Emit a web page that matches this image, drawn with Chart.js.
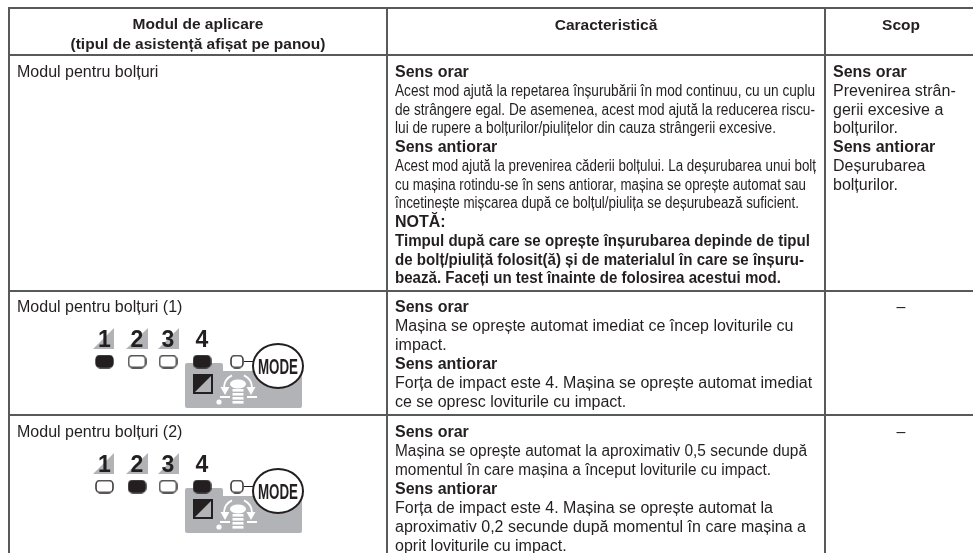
<!DOCTYPE html>
<html lang="ro">
<head>
<meta charset="utf-8">
<title>Modul de aplicare</title>
<style>html,body{margin:0;padding:0;background:#fff}canvas{display:block}</style>
<script src="https://cdn.jsdelivr.net/npm/chart.js@4"></script>
</head>
<body>
<canvas id="c" width="973" height="553"></canvas>
<script>
// ---- table content ----
const headerCol1 = ['Modul de aplicare', '(tipul de asistență afișat pe panou)'];
const headerCol2 = ['Caracteristică'];
const headerCol3 = ['Scop'];
const modeNames = ['Modul pentru bolțuri', 'Modul pentru bolțuri (1)', 'Modul pentru bolțuri (2)'];
const featureRow1 = ['Sens orar',
  'Acest mod ajută la repetarea înșurubării în mod continuu, cu un cuplu',
  'de strângere egal. De asemenea, acest mod ajută la reducerea riscu-',
  'lui de rupere a bolțurilor/piulițelor din cauza strângerii excesive.',
  'Sens antiorar',
  'Acest mod ajută la prevenirea căderii bolțului. La deșurubarea unui bolț',
  'cu mașina rotindu-se în sens antiorar, mașina se oprește automat sau',
  'încetinește mișcarea după ce bolțul/piulița se deșurubează suficient.',
  'NOTĂ:',
  'Timpul după care se oprește înșurubarea depinde de tipul',
  'de bolț/piuliță folosit(ă) și de materialul în care se înșuru-',
  'bează. Faceți un test înainte de folosirea acestui mod.'];
const featureRow1Bold = [0, 4, 8, 9, 10, 11];
const featureRow2 = ['Sens orar',
  'Mașina se oprește automat imediat ce încep loviturile cu',
  'impact.',
  'Sens antiorar',
  'Forța de impact este 4. Mașina se oprește automat imediat',
  'ce se opresc loviturile cu impact.'];
const featureRow2Bold = [0, 3];
const featureRow3 = ['Sens orar',
  'Mașina se oprește automat la aproximativ 0,5 secunde după',
  'momentul în care mașina a început loviturile cu impact.',
  'Sens antiorar',
  'Forța de impact este 4. Mașina se oprește automat la',
  'aproximativ 0,2 secunde după momentul în care mașina a',
  'oprit loviturile cu impact.'];
const featureRow3Bold = [0, 3];
const purposeRow1 = ['Sens orar', 'Prevenirea strân-', 'gerii excesive a', 'bolțurilor.',
  'Sens antiorar', 'Deșurubarea', 'bolțurilor.'];
const purposeRow1Bold = [0, 4];
const emptyPurpose = '–';
const levelDigits = ['1', '2', '3', '4'];
const modeWord = 'MODE';
const litLevelsRow2 = [0, 3];
const litLevelsRow3 = [1, 3];

// ---- layout (in scale units, which equal page pixels) ----
const columnRules = [9, 387, 825];
const rowRules = [8, 55, 291, 415];
const textCol = [17, 395, 833];
const headCenters = [198, 606, 901];
const lampX = [104.5, 137, 168, 202];
const lampBaseY = 361.5;
const iconRowShift = [0, 125];
const sizeN = 16;
const fitRow1 = {1: 420, 2: 420, 3: 381, 5: 421, 6: 411, 7: 404, 9: 415, 10: 409, 11: 386};
const fitRow3 = {1: 412, 2: 376};

function lampSprite(w, h, lit) {
  const s = document.createElement('canvas');
  s.width = w + 2; s.height = h + 2;
  const g = s.getContext('2d');
  g.beginPath(); g.roundRect(1, 1, w, h, 4);
  g.fillStyle = lit ? '#231f20' : '#fff'; g.fill();
  g.lineWidth = 1.4; g.strokeStyle = '#231f20'; g.stroke();
  return s;
}
const litPoints = [], offPoints = [], smallPoints = [];
iconRowShift.forEach((dy, r) => {
  const lit = r === 0 ? litLevelsRow2 : litLevelsRow3;
  lampX.forEach((x, i) => (lit.includes(i) ? litPoints : offPoints).push({x, y: lampBaseY + dy}));
  smallPoints.push({x: 237, y: lampBaseY + dy});
});

const tablePlugin = {
  id: 'table',
  beforeDatasetsDraw(chart) {
    const {ctx, scales: {x: X, y: Y}} = chart;
    const px = v => X.getPixelForValue(v), py = v => Y.getPixelForValue(v);
    ctx.save();
    // table rules
    ctx.strokeStyle = '#58595b'; ctx.lineWidth = 2;
    columnRules.forEach(v => {
      ctx.beginPath(); ctx.moveTo(px(v), py(rowRules[0]) - 1); ctx.lineTo(px(v), py(553)); ctx.stroke();
    });
    rowRules.forEach(v => {
      ctx.beginPath(); ctx.moveTo(px(columnRules[0]), py(v)); ctx.lineTo(px(973), py(v)); ctx.stroke();
    });
    iconRowShift.forEach(dy => {
      // grey panel
      ctx.fillStyle = '#b1b3b6';
      ctx.beginPath();
      ctx.roundRect(px(185), py(363 + dy), 38, 20, 2);
      ctx.roundRect(px(185), py(371 + dy), 117, 37, 2);
      ctx.fill();
      // level triangles
      [[93, 114], [126, 148], [158, 179]].forEach(([a, b]) => {
        ctx.fillStyle = '#b1b3b6';
        ctx.beginPath();
        ctx.moveTo(px(a), py(349 + dy));
        ctx.lineTo(px(b), py(328 + dy));
        ctx.lineTo(px(b), py(349 + dy));
        ctx.closePath(); ctx.fill();
      });
      // half-filled square
      ctx.fillStyle = '#231f20';
      ctx.fillRect(px(193), py(374 + dy), 20, 20);
      ctx.fillStyle = '#b1b3b6';
      ctx.beginPath();
      ctx.moveTo(px(195), py(392 + dy));
      ctx.lineTo(px(211), py(376 + dy));
      ctx.lineTo(px(211), py(392 + dy));
      ctx.closePath(); ctx.fill();
      // screw pictogram
      ctx.strokeStyle = '#fff'; ctx.fillStyle = '#fff'; ctx.lineWidth = 1.8;
      ctx.beginPath();
      ctx.arc(px(238), py(388 + dy), 14, Math.PI * 1.02, Math.PI * 1.36);
      ctx.stroke();
      ctx.beginPath();
      ctx.arc(px(238), py(388 + dy), 14, Math.PI * 1.64, Math.PI * 1.98);
      ctx.stroke();
      [225, 251].forEach(a => {
        ctx.beginPath();
        ctx.moveTo(px(a - 4.5), py(387 + dy));
        ctx.lineTo(px(a + 4.5), py(387 + dy));
        ctx.lineTo(px(a), py(395 + dy));
        ctx.closePath(); ctx.fill();
      });
      ctx.fillRect(px(220), py(396 + dy), 10, 2);
      ctx.fillRect(px(247), py(396 + dy), 10, 2);
      ctx.beginPath();
      ctx.ellipse(px(238), py(384 + dy), 8, 4.5, 0, 0, Math.PI * 2);
      ctx.fill();
      [389, 393, 397, 401].forEach(v => ctx.fillRect(px(232.5), py(v + dy), 11, 2.6));
      ctx.beginPath();
      ctx.arc(px(219), py(402 + dy), 2.6, 0, Math.PI * 2);
      ctx.fill();
    });
    ctx.restore();
  },
  afterDatasetsDraw(chart) {
    const {ctx, scales: {x: X, y: Y}} = chart;
    const px = v => X.getPixelForValue(v), py = v => Y.getPixelForValue(v);
    const put = (t, x, y, bold, size, align, fit) => {
      ctx.font = (bold ? 'bold ' : '') + size + 'px "Liberation Sans", Arial, sans-serif';
      ctx.textAlign = align || 'left';
      ctx.textBaseline = 'alphabetic';
      if (fit) ctx.fillText(t, px(x), py(y), fit); else ctx.fillText(t, px(x), py(y));
    };
    ctx.save();
    ctx.fillStyle = '#231f20';
    // headers
    headerCol1.forEach((t, i) => put(t, headCenters[0], 29 + i * 20, true, 15.5, 'center'));
    put(headerCol2[0], headCenters[1], 30, true, 15.5, 'center');
    put(headerCol3[0], headCenters[2], 30, true, 15.5, 'center');
    // first column
    const firstLine = [77, 312, 437];
    modeNames.forEach((t, i) => put(t, textCol[0], firstLine[i], false, sizeN));
    // second column
    const step = 18.75;
    featureRow1.forEach((t, i) => put(t, textCol[1], 77 + i * step, featureRow1Bold.includes(i), sizeN, 'left', fitRow1[i]));
    featureRow2.forEach((t, i) => put(t, textCol[1], 312 + i * 19, featureRow2Bold.includes(i), sizeN));
    featureRow3.forEach((t, i) => put(t, textCol[1], 437 + i * 19, featureRow3Bold.includes(i), sizeN, 'left', fitRow3[i]));
    // third column
    purposeRow1.forEach((t, i) => put(t, textCol[2], 77 + i * step, purposeRow1Bold.includes(i), sizeN));
    put(emptyPurpose, headCenters[2], 312, false, sizeN, 'center');
    put(emptyPurpose, headCenters[2], 437, false, sizeN, 'center');
    // pictogram text and MODE button
    iconRowShift.forEach(dy => {
      lampX.forEach((x, i) => {
        ctx.fillStyle = '#231f20';
        put(levelDigits[i], x, 347 + dy, true, 23, 'center');
      });
      ctx.strokeStyle = '#231f20'; ctx.lineWidth = 1;
      ctx.beginPath();
      ctx.moveTo(px(244), py(361.5 + dy)); ctx.lineTo(px(254), py(361.5 + dy));
      ctx.stroke();
      ctx.fillStyle = '#fff'; ctx.lineWidth = 2;
      ctx.beginPath();
      ctx.ellipse(px(278), py(366 + dy), 25, 22, 0, 0, Math.PI * 2);
      ctx.fill(); ctx.stroke();
      ctx.fillStyle = '#231f20';
      put(modeWord, 278, 374 + dy, true, 22, 'center', 40);
    });
    ctx.restore();
  }
};

new Chart(document.getElementById('c'), {
  type: 'scatter',
  data: {
    datasets: [
      {label: 'lit', data: litPoints, pointStyle: lampSprite(17, 12, true), pointRadius: 8},
      {label: 'off', data: offPoints, pointStyle: lampSprite(17, 12, false), pointRadius: 8},
      {label: 'small', data: smallPoints, pointStyle: lampSprite(12, 12, false), pointRadius: 6}
    ]
  },
  plugins: [tablePlugin],
  options: {
    responsive: false,
    animation: false,
    events: [],
    layout: {padding: 0, autoPadding: false},
    plugins: {legend: {display: false}, tooltip: {enabled: false}, title: {display: false}},
    scales: {
      x: {type: 'linear', min: 0, max: 973, display: false},
      y: {type: 'linear', reverse: true, min: 0, max: 553, display: false}
    }
  }
});
</script>
</body>
</html>
